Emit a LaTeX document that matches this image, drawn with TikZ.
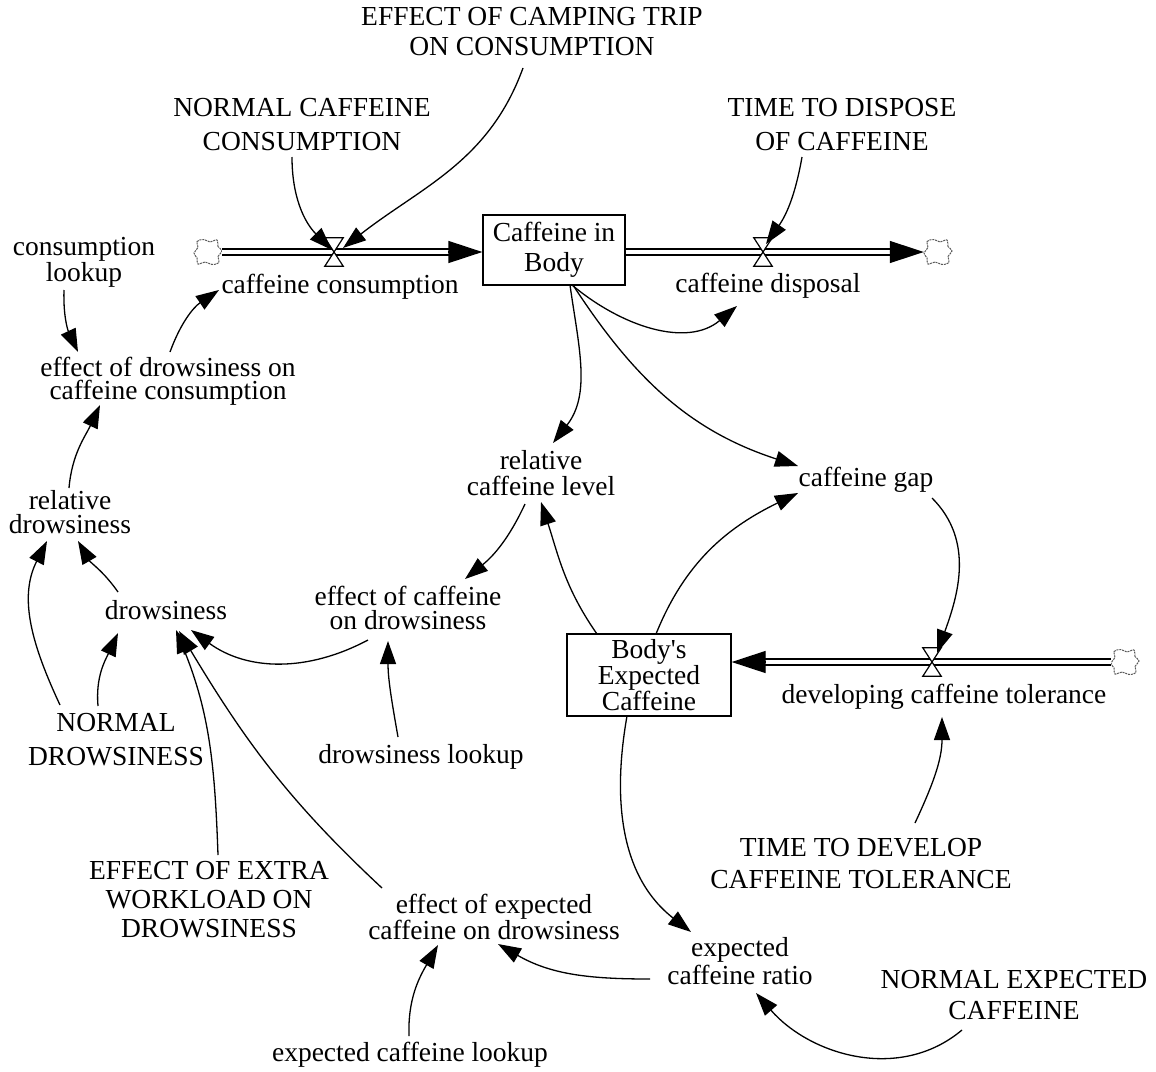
\documentclass[tikz,border=0pt]{standalone}
\usepackage{fontspec}
\setmainfont{Liberation Serif}[Ligatures=TeXOff]
\usetikzlibrary{arrows.meta,calc}
\begin{document}
\begin{tikzpicture}[x=1pt,y=1pt,
  lbl/.style={font=\fontsize{27.5}{#1}\selectfont, align=center, inner sep=0pt},
  lbl/.default=27,
  stockbox/.style={draw, line width=1.3pt, align=center, inner sep=0pt},
  cloudbox/.style={minimum width=28pt, minimum height=25pt, inner sep=0pt},
  cloudline/.style={draw=black!65, dash pattern=on 2pt off 0.9pt, line width=1pt, fill=white},
  pipe/.style={double distance=4.6pt, line width=1.3pt},
  pipetip/.style={-{Triangle[length=34pt,width=22pt]}, line width=1.3pt},
  link/.style={line width=1.3pt, -{Triangle[length=23pt,width=16pt]}},
  valvebox/.style={minimum width=18pt, minimum height=28pt, inner sep=0pt},
  valveshape/.style={draw, fill=white, line width=1.2pt, line join=miter}
]
\fill[white] (0,0) rectangle (1156,-1071);
\useasboundingbox (0,0) rectangle (1156,-1071);

% ---------- stocks ----------
\node[stockbox, minimum width=142pt, minimum height=70pt, lbl=30] (stock1) at (554,-250) {Caffeine in\\Body};
\node[stockbox, minimum width=164pt, minimum height=82pt, lbl=24.5] (stock2) at (649,-675) {Body's\\Expected\\Caffeine};

% ---------- clouds ----------
\node[cloudbox] (cloud1) at (208,-252) {};
\node[cloudbox] (cloud2) at (938,-252) {};
\node[cloudbox] (cloud3) at (1125,-662) {};
\foreach \c in {cloud1,cloud2,cloud3}{
  \begin{scope}[shift={(\c)}]
    \draw[cloudline] plot[smooth cycle, tension=0.75] coordinates
      {(14,1) (10,5.5) (9,12) (2,10) (-4,12.5) (-11,10.5) (-10,4.5)
       (-14,-1) (-11,-6) (-10,-12) (-3,-10) (4,-12.5) (11,-10.5) (10,-4.5)};
  \end{scope}
}

% ---------- valves ----------
\node[valvebox] (v1) at (334,-252) {};
\node[valvebox] (v2) at (763,-252) {};
\node[valvebox] (v3) at (932,-662) {};

% ---------- pipes ----------
\coordinate (p1end) at (stock1.west |- cloud1);
\coordinate (p2beg) at (stock1.east |- cloud2);
\coordinate (p3end) at (stock2.east |- cloud3);
\draw[pipe, shorten >=30pt] (cloud1.east) -- (p1end);
\draw[pipetip] ($(p1end)+(-34,0)$) -- (p1end);
\draw[pipe, shorten >=30pt] (p2beg) -- (cloud2.west);
\draw[pipetip] ($(cloud2.west)+(-34,0)$) -- (cloud2.west);
\draw[pipe, shorten >=30pt] (cloud3.west) -- (p3end);
\draw[pipetip] ($(p3end)+(34,0)$) -- (p3end);

\foreach \v in {v1,v2,v3}{
  \draw[valveshape] (\v.north west) -- (\v.north east) -- (\v.south west) -- (\v.south east) -- cycle;
}

% ---------- labels / auxiliaries ----------
\node[lbl] (lcons) at (340,-287) {caffeine consumption};
\node[lbl] (ldisp) at (768,-286) {caffeine disposal};
\node[lbl] (ldev) at (944,-697) {developing caffeine tolerance};

\node[lbl=30] (camp) at (532,-32) {EFFECT OF CAMPING TRIP\\ON CONSUMPTION};
\node[lbl=34] (ncc) at (302,-125) {NORMAL CAFFEINE\\CONSUMPTION};
\node[lbl=34] (ttd) at (842,-125) {TIME TO DISPOSE\\OF CAFFEINE};
\node[lbl=23] (clook) at (84,-262) {consumption\\lookup};
\node[lbl=23] (edc) at (168,-381) {effect of drowsiness on\\caffeine consumption};
\node[lbl=26] (rcl) at (541,-473) {relative\\caffeine level};
\node[lbl] (gap) at (866,-480) {caffeine gap};
\node[lbl=24] (rd) at (70,-512) {relative\\drowsiness};
\node[lbl] (drow) at (166,-610) {drowsiness};
\node[lbl=24] (ecd) at (408,-608) {effect of caffeine\\on drowsiness};
\node[lbl=34] (nd) at (116,-740) {NORMAL\\DROWSINESS};
\node[lbl] (dlook) at (421,-757) {drowsiness lookup};
\node[lbl=32] (ttdev) at (861,-864) {TIME TO DEVELOP\\CAFFEINE TOLERANCE};
\node[lbl=29] (eew) at (209,-900) {EFFECT OF EXTRA\\WORKLOAD ON\\DROWSINESS};
\node[lbl=18] (eecd) at (494,-917) {effect of expected\\caffeine on drowsiness};
\node[lbl=28] (ecr) at (740,-961) {expected\\caffeine ratio};
\node[lbl=31] (nec) at (1014,-995) {NORMAL EXPECTED\\CAFFEINE};
\node[lbl] (eclook) at (410,-1055) {expected caffeine lookup};

% ---------- links ----------
\draw[link] ($(ncc)+(-10,-32)$) to[out=-90,in=135] ($(v1)+(-2,2)$);
\draw[link] ($(camp)+(-9,-36)$) to[out=-110,in=38] ($(v1)+(9,4)$);
\draw[link] ($(ttd)+(-40,-32)$) to[out=-100,in=55] ($(v2)+(3,8)$);
\draw[link] ($(stock1)+(18,-35)$) to[out=-40,in=-140] ($(ldisp)+(-31,-20)$);
\draw[link] ($(stock1)+(16,-35)$) to[out=-82,in=52] ($(rcl)+(12,30)$);
\draw[link] ($(stock1)+(19,-35)$) to[out=-57,in=162] ($(gap)+(-68,14)$);
\draw[link] ($(stock2)+(7,41)$) to[out=68,in=-154] ($(gap)+(-68,-13)$);
\draw[link] ($(stock2)+(-52,41)$) to[out=125,in=-72] ($(rcl)+(0,-29)$);
\draw[link] ($(rcl)+(-16,-31)$) to[out=-115,in=39] ($(ecd)+(57,29)$);
\draw[link] ($(ecd)+(-40,-32)$) to[out=-152,in=-36] ($(drow)+(25,-20)$);
\draw[link] ($(dlook)+(-23,20)$) to[out=100,in=-90] ($(ecd)+(-20,-33)$);
\draw[link] ($(drow)+(-48,18)$) to[out=125,in=-60] ($(rd)+(8,-29)$);
\draw[link] ($(nd)+(-18,34)$) to[out=95,in=-115] ($(drow)+(-48,-23)$);
\draw[link] ($(nd)+(-56,35)$) to[out=115,in=-117] ($(rd)+(-23,-29)$);
\draw[link] ($(rd)+(-1,24)$) to[out=85,in=-115] ($(edc)+(-68,-24)$);
\draw[link] ($(clook)+(-20,-28)$) to[out=-92,in=115] ($(edc)+(-90,29)$);
\draw[link] ($(edc)+(2,29)$) to[out=70,in=-146] ($(lcons)+(-121,-3)$);
\draw[link] ($(eew)+(9,45)$) to[out=92,in=-68] ($(drow)+(10,-20)$);
\draw[link] ($(eecd)+(-112,29)$) to[out=137,in=-59] ($(drow)+(13,-21)$);
\draw[link] ($(ecr)+(-90,-18)$) to[out=180,in=-30] ($(eecd)+(4,-27)$);
\draw[link] ($(eclook)+(-1,19)$) to[out=92,in=-120] ($(eecd)+(-56,-28)$);
\draw[link] ($(stock2)+(-22,-41)$) to[out=-100,in=142] ($(ecr)+(-49,29)$);
\draw[link] ($(nec)+(-52,-35)$) to[out=-140,in=-49] ($(ecr)+(16,-32)$);
\draw[link] ($(gap)+(66,-18)$) to[out=-45,in=70] ($(v3)+(5,9)$);
\draw[link] ($(ttdev)+(54,41)$) to[out=65,in=-90] ($(ldev)+(-2,-20)$);
\end{tikzpicture}
\end{document}
